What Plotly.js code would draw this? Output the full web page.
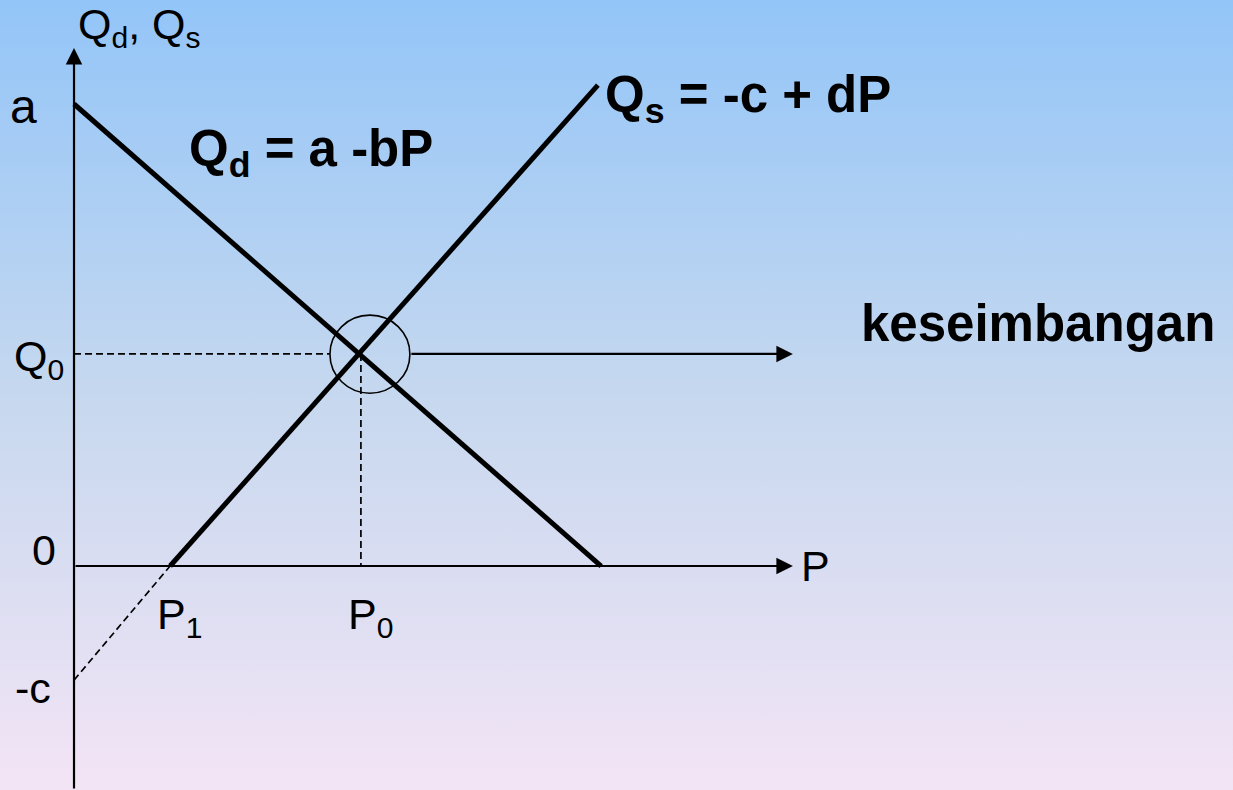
<!DOCTYPE html>
<html>
<head>
<meta charset="utf-8">
<script src="https://cdn.plot.ly/plotly-3.0.1.min.js"></script>
<style>
html, body { margin:0; padding:0; width:1233px; height:790px; overflow:hidden;
  background: linear-gradient(to bottom, #93c5f8 0%, #c6d8ef 50%, #f3e4f5 100%); }
#chart { width:1233px; height:790px; }
</style>
</head>
<body>
<div id="chart"></div>
<script>
// Values in chart units (a = 10)
const demandP = [0, 11.41];
const demandQ = [10, 0];
const supplyP = [2.08, 11.34];
const supplyQ = [0, 10.41];
const supplyExtP = [0, 2.08];
const supplyExtQ = [-2.47, 0];
const P0 = 6.21, Q0 = 4.59, P1 = 2.08, A = 10, C = -2.47;
const xAxisEnd = 15.56, yAxisEnd = 11.21, yAxisStart = -4.85;
const circleP = [5.54, 7.27];
const circleQ = [3.74, 5.43];

const FONT = 'Liberation Sans, Arial, sans-serif';

const traces = [
  {x: demandP, y: demandQ, mode:'lines', line:{color:'#000', width:5}, hoverinfo:'skip'},
  {x: supplyP, y: supplyQ, mode:'lines', line:{color:'#000', width:5}, hoverinfo:'skip'},
  {x: supplyExtP, y: supplyExtQ, mode:'lines', line:{color:'#000', width:1.7, dash:'7px,4px'}, hoverinfo:'skip'},
  {x: [0, circleP[0]], y: [Q0, Q0], mode:'lines', line:{color:'#000', width:1.7, dash:'7px,4px'}, hoverinfo:'skip'},
  {x: [P0, P0], y: [Q0, 0], mode:'lines', line:{color:'#000', width:1.7, dash:'7px,4px'}, hoverinfo:'skip'}
];

function arrow(x, y, ax, ay) {
  return {x:x, y:y, ax:ax, ay:ay, xref:'x', yref:'y', axref:'x', ayref:'y',
    showarrow:true, arrowhead:2, arrowsize:1.5, arrowwidth:2.2, arrowcolor:'#000', text:'', standoff:0};
}
function label(x, y, text, size) {
  return {x:x, y:y, xref:'x', yref:'y', text:text, showarrow:false,
    font:{family:FONT, size:size||42, color:'#000'}, xanchor:'left', yanchor:'middle'};
}

const annotations = [
  arrow(0, yAxisEnd, 0, yAxisStart),
  arrow(xAxisEnd, 0, 0, 0),
  arrow(xAxisEnd, Q0, circleP[1], Q0),
  label(0.05, 11.67, 'Q<sub>d</sub>, Q<sub>s</sub>', 43),
  label(-1.42, A - 0.05, 'a', 48),
  label(-1.35, Q0 - 0.1, 'Q<sub>0</sub>', 43),
  label(-0.95, 0.35, '0', 43),
  label(-1.33, C - 0.18, '-c', 43),
  label(15.7, 0, 'P', 43),
  label(P1 - 0.33, -1.1, 'P<sub>1</sub>', 43),
  label(P0 - 0.33, -1.1, 'P<sub>0</sub>', 43),
  label(2.45, 8.95, '<b>Q<sub>d</sub> = a -bP</b>', 51),
  label(11.45, 10.12, '<b>Q<sub>s</sub> = -c + dP</b>', 51),
  label(17.0, 5.25, '<b>keseimbangan</b>', 51)
];

const layout = {
  width:1233, height:790,
  margin:{l:0, r:0, t:0, b:0},
  paper_bgcolor:'rgba(0,0,0,0)', plot_bgcolor:'rgba(0,0,0,0)',
  showlegend:false,
  xaxis:{range:[-1.602, 25.087], visible:false, fixedrange:true},
  yaxis:{range:[-4.848, 12.251], visible:false, fixedrange:true},
  shapes:[{type:'circle', xref:'x', yref:'y', x0:circleP[0], x1:circleP[1], y0:circleQ[0], y1:circleQ[1],
    line:{color:'#000', width:1.6}}],
  annotations: annotations
};

Plotly.newPlot('chart', traces, layout, {displayModeBar:false, staticPlot:true});
</script>
</body>
</html>
